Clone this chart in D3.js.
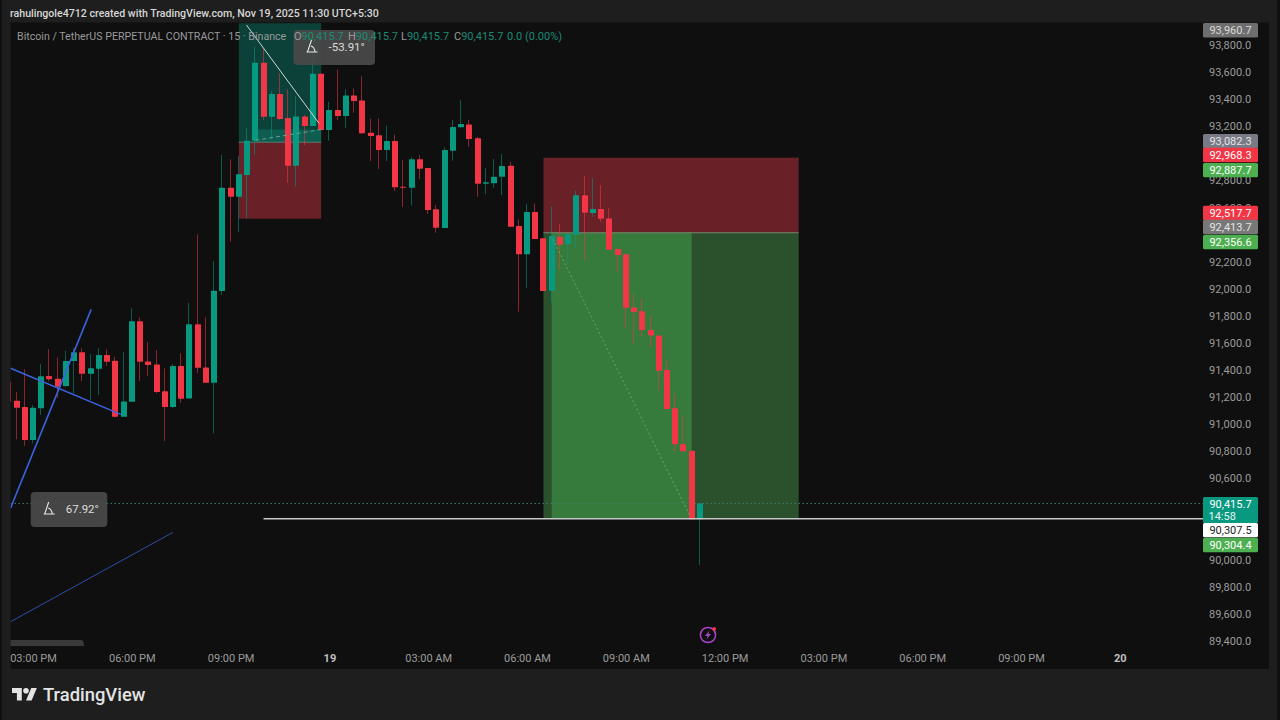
<!DOCTYPE html>
<html>
<head>
<meta charset="utf-8">
<title>BTCUSDT.P 15m</title>
<script src="https://d3js.org/d3.v7.min.js"></script>
<style>
  html, body { margin: 0; padding: 0; background: #1e1e1e; overflow: hidden; }
  svg { display: block; }
  text { font-family: Roboto, Inter, sans-serif; }
</style>
</head>
<body>
<svg id="chart" width="1280" height="720"></svg>
<script>
// 15-minute BTCUSDT perpetual candles, Nov 18 14:15 to Nov 19 11:15
const firstBar = Date.UTC(2025, 10, 18, 14, 15);
const opens = [91314,91174,91127,90884,91118,91356,91336,91282,91467,91531,91373,91410,91511,91469,91055,91166,91760,91464,91442,91243,91127,91430,91191,91738,91420,91306,91984,92746,92680,92840,93093,93669,93270,93438,93261,92909,93273,93202,93588,93172,93320,93276,93428,93391,93152,93133,93025,93091,92754,92746,92956,92892,92587,92449,93019,93192,93214,93111,92776,92779,92827,92909,92463,92255,92567,92373,91986,92384,92331,92399,92690,92559,92589,92520,92294,92255,91863,91834,91696,91656,91400,91118,90852,90805,90298];
const highs = [91314,91240,91406,91142,91445,91555,91494,91543,91563,91561,91518,91561,91553,91498,91535,91856,91789,91609,91548,91413,91445,91524,91897,92402,91789,92205,92988,92956,92980,93185,93787,93775,93462,93591,93473,93423,93283,93726,93591,93381,93620,93473,93480,93571,93256,93259,93204,93139,92951,92971,92988,92892,92619,93045,93246,93394,93246,93123,92889,92958,92995,92938,92513,92626,92630,92375,92606,92478,92402,92724,92833,92816,92766,92594,92294,92255,91967,91930,91806,91656,91474,91230,91061,90805,90415.7];
const lows = [91166,90889,90841,90859,91068,91317,91196,91277,91228,91319,91179,91216,91430,91051,91055,91166,91319,91356,91228,90876,91118,91159,91191,91378,91306,90933,91954,92348,92421,92520,92988,93246,93103,93246,92783,92754,93061,93202,93172,93093,93246,93185,93300,93143,92943,92884,92943,92722,92606,92616,92810,92552,92414,92449,92946,93192,93049,92680,92698,92746,92692,92456,91831,92008,92367,91984,91895,92144,92175,92301,92207,92532,92493,92289,92126,91708,91597,91651,91572,91253,91112,90797,90800,90298,89961];
const closes = [91166,91122,90884,91122,91354,91332,91277,91467,91531,91373,91413,91511,91462,91055,91169,91760,91462,91437,91238,91127,91430,91188,91738,91417,91306,91986,92746,92680,92845,93093,93669,93270,93438,93253,92909,93273,93202,93588,93172,93320,93276,93428,93386,93148,93128,93025,93091,92749,92746,92956,92887,92582,92451,93025,93194,93217,93106,92776,92786,92827,92906,92458,92255,92567,92367,91984,92390,92325,92402,92690,92562,92589,92517,92289,92249,91860,91829,91696,91656,91395,91112,90852,90800,90298,90415.7];

// Axis tick labels; levels that sit behind a price tag get no label of their own
const priceTicks = [89400,89600,89800,90000,90600,90800,91000,91200,91400,91600,91800,92000,92200,92600,92800,93200,93400,93600,93800];
const timeTicks = [
  [Date.UTC(2025,10,18,15), "03:00 PM"], [Date.UTC(2025,10,18,18), "06:00 PM"],
  [Date.UTC(2025,10,18,21), "09:00 PM"], [Date.UTC(2025,10,19,0), "19"],
  [Date.UTC(2025,10,19,3), "03:00 AM"], [Date.UTC(2025,10,19,6), "06:00 AM"],
  [Date.UTC(2025,10,19,9), "09:00 AM"], [Date.UTC(2025,10,19,12), "12:00 PM"],
  [Date.UTC(2025,10,19,15), "03:00 PM"], [Date.UTC(2025,10,19,18), "06:00 PM"],
  [Date.UTC(2025,10,19,21), "09:00 PM"], [Date.UTC(2025,10,20,0), "20"]
];

// Price-axis tags: value, optional second line, fill, text colour, stacking shift
const priceTags = [
  [93960.7, null, "#6e6e6e", "#d8d8d8", 7],
  [93082.3, null, "#787b86", "#e4e4e4", -1],
  [92968.3, null, "#f23645", "#ffffff", -2.6],
  [92887.7, null, "#4caf50", "#ffffff", 1.5],
  [92517.7, null, "#f23645", "#ffffff", -5.7],
  [92413.7, null, "#787878", "#e4e4e4", -5.8],
  [92356.6, null, "#4caf50", "#ffffff", 1.5],
  [90304.4, null, "#4caf50", "#ffffff", 26.5],
  [90307.5, null, "#ffffff", "#222222", 12],
  [90415.7, "14:58", "#089981", "#ffffff", 6.6]
];

// Position tools and drawings, as time and price
const t = (d, h, m) => Date.UTC(2025, 10, d, h, m);
const longTool = { from: t(18,21,15), to: t(18,23,45), target: 93960.7, entry: 93082.3, stop: 92517.7 };
const longBand = { from: t(18,21,45), to: t(18,23,45), top: 93176, entry: 93082.3 };
const shortTool = { from: t(19,6,30), to: t(19,14,15), stop: 92968.3, entry: 92413.7, target: 90304.4, activeFrom: t(19,6,45), activeTo: t(19,11,0) };
const blueThick = [
  [[t(18,14,19), 91413], [t(18,17,40), 91073]],
  [[t(18,14,19), 90381], [t(18,16,46), 91848]]
];
const blueThin = [[t(18,14,19), 89542], [t(18,19,15), 90202]];
const whiteDiagonal = [[t(18,21,29), 93947], [t(18,23,41), 93222]];
const longDashes = [[t(18,21,45), 93096], [t(18,23,45), 93176]];
const shortDashes = [[t(19,6,47), 92367], [t(19,10,57), 90322]];
const lastPrice = 90415.7;
const levelPrice = 90307.5;
const levelStart = t(18,22,0);

const svg = d3.select("#chart");

const x = d3.scaleUtc().domain([Date.UTC(2025,10,18,15), Date.UTC(2025,10,20,0)]).range([33, 1119.8]);
const y = d3.scaleLinear().domain([89400, 93800]).range([641, 45]);
const bars = opens.map((o, i) => ({
  time: d3.utcMinute.offset(new Date(firstBar), i * 15),
  o, h: highs[i], l: lows[i], c: closes[i]
}));

const UP = "#089981", DOWN = "#f23645";
const plot = { l: 10.5, t: 22.5, r: 1203, b: 669 };

// Outer frame and chart background
svg.append("rect").attr("width", 1280).attr("height", 720).attr("fill", "#1e1e1e");
svg.append("rect").attr("width", 2).attr("height", 720).attr("fill", "#101010");
svg.append("rect").attr("x", 1277).attr("width", 3).attr("height", 720).attr("fill", "#101010");
svg.append("rect").attr("x", plot.l).attr("y", plot.t).attr("width", 1269 - plot.l).attr("height", plot.b - plot.t).attr("fill", "#0f0f0f");

svg.append("defs").append("clipPath").attr("id", "pane")
  .append("rect").attr("x", plot.l).attr("y", plot.t).attr("width", plot.r - plot.l).attr("height", 622);
const pane = svg.append("g").attr("clip-path", "url(#pane)");

const zone = (x0, x1, p0, p1, fill) => pane.append("rect")
  .attr("x", x(x0)).attr("width", x(x1) - x(x0))
  .attr("y", y(p0)).attr("height", y(p1) - y(p0)).attr("fill", fill);

// Long position on the left
zone(longTool.from, longTool.to, longTool.target, longTool.entry, "#0b4138");
zone(longBand.from, longBand.to, longBand.top, longBand.entry, "#0e5d50");
zone(longTool.from, longTool.to, longTool.entry, longTool.stop, "#6a2027");
pane.append("line").attr("x1", x(longTool.from)).attr("x2", x(longTool.to))
  .attr("y1", y(longTool.entry)).attr("y2", y(longTool.entry)).attr("stroke", "#5a7d74").attr("stroke-width", 1);

// Short position in the middle
zone(shortTool.from, shortTool.to, shortTool.stop, shortTool.entry, "#6a2027");
zone(shortTool.from, shortTool.to, shortTool.entry, shortTool.target, "#2a502c");
zone(shortTool.activeFrom, shortTool.activeTo, shortTool.entry, shortTool.target, "#367a3c");
pane.append("line").attr("x1", x(shortTool.from)).attr("x2", x(shortTool.to))
  .attr("y1", y(shortTool.entry)).attr("y2", y(shortTool.entry)).attr("stroke", "#7a8a70").attr("stroke-width", 1);

const line = d3.line().x(d => x(d[0])).y(d => y(d[1]));

// Last-price guide
pane.append("line").attr("x1", plot.l).attr("x2", plot.r).attr("y1", y(lastPrice)).attr("y2", y(lastPrice))
  .attr("stroke", "#3f7f70").attr("stroke-width", 1).attr("stroke-dasharray", "1.5 2.5");

// Candles
const candle = pane.append("g").selectAll("g").data(bars).join("g");
candle.append("line")
  .attr("x1", d => Math.round(x(d.time)) - 0.5).attr("x2", d => Math.round(x(d.time)) - 0.5)
  .attr("y1", d => y(d.h)).attr("y2", d => y(d.l))
  .attr("stroke", d => d.c >= d.o ? UP : DOWN).attr("stroke-opacity", 0.55).attr("stroke-width", 1);
candle.append("rect")
  .attr("x", d => Math.round(x(d.time)) - 3).attr("width", 6)
  .attr("y", d => y(Math.max(d.o, d.c)))
  .attr("height", d => Math.max(1, Math.abs(y(d.o) - y(d.c))))
  .attr("rx", 0.6)
  .attr("fill", d => d.c >= d.o ? UP : DOWN);

// Hand-drawn lines over the candles
blueThick.forEach(seg => pane.append("path").attr("d", line(seg)).attr("fill", "none").attr("stroke", "#3a62dc").attr("stroke-width", 1.6));
pane.append("path").attr("d", line(blueThin)).attr("fill", "none").attr("stroke", "#2f4fa8").attr("stroke-width", 1);
pane.append("path").attr("d", line(whiteDiagonal)).attr("fill", "none").attr("stroke", "#cfd8d6").attr("stroke-width", 1);
pane.append("path").attr("d", line(longDashes)).attr("fill", "none").attr("stroke", "#5fa393").attr("stroke-width", 1).attr("stroke-dasharray", "4 3");
pane.append("path").attr("d", line(shortDashes)).attr("fill", "none").attr("stroke", "#66a56c").attr("stroke-width", 1).attr("stroke-dasharray", "2 2.5");
pane.append("line").attr("x1", x(levelStart)).attr("x2", plot.r).attr("y1", y(levelPrice) + 0.6).attr("y2", y(levelPrice) + 0.6)
  .attr("stroke", "#c8c8c8").attr("stroke-width", 1.5);

// Angle read-outs
function angleBox(bx, by, w, label) {
  const g = svg.append("g").attr("transform", `translate(${bx},${by})`);
  g.append("rect").attr("width", w).attr("height", 35).attr("rx", 4).attr("fill", "#4a4a4a").attr("fill-opacity", 0.92);
  g.append("path").attr("d", "M13 22 H24 M14 22 L18 10 M17.5 16 Q21 17 21.5 22")
    .attr("fill", "none").attr("stroke", "#e8e8e8").attr("stroke-width", 1.1);
  g.append("text").attr("x", 35).attr("y", 21).attr("font-size", 11.5).attr("fill", "#dcdcdc").text(label);
}
angleBox(30.7, 492, 76.6, "67.92°");
angleBox(293.5, 30, 81.5, "-53.91°");

// Scroll handle at the bottom of the pane
svg.append("path").attr("d", "M10.5 646 V640 H81 Q84 640 84 646 Z").attr("fill", "#3a3a3a");

// Price axis
const yAxis = svg.append("g").attr("transform", "translate(1202,0)")
  .call(d3.axisRight(y).tickValues(priceTicks).tickSize(0).tickPadding(7).tickFormat(d3.format(",.1f")));
yAxis.select(".domain").remove();
yAxis.selectAll("text").attr("font-family", "Roboto, Inter, sans-serif").attr("font-size", 11).attr("fill", "#9b9b9b");

// Time axis
const xAxis = svg.append("g").attr("transform", "translate(0,654)")
  .call(d3.axisBottom(x).tickValues(timeTicks.map(d => new Date(d[0]))).tickSize(0).tickPadding(0)
    .tickFormat((d, i) => timeTicks[i][1]));
xAxis.select(".domain").remove();
xAxis.selectAll("text").attr("font-family", "Roboto, Inter, sans-serif").attr("font-size", 11)
  .attr("fill", (d, i) => timeTicks[i][1].length < 3 ? "#c0c0c0" : "#9b9b9b")
  .attr("font-weight", (d, i) => timeTicks[i][1].length < 3 ? 700 : 400);

// Price tags stacked on the axis
const tag = svg.append("g").selectAll("g").data(priceTags).join("g")
  .attr("transform", d => `translate(1203,${y(d[0]) + d[4]})`);
tag.append("rect").attr("y", d => d[1] ? -13 : -7.2).attr("width", 55).attr("height", d => d[1] ? 26 : 14.4).attr("rx", 1.5)
  .attr("fill", d => d[2]);
tag.append("text").attr("x", 27.5).attr("y", d => d[1] ? -2.2 : 4).attr("text-anchor", "middle").attr("font-size", 11)
  .attr("fill", d => d[3]).text(d => d3.format(",.1f")(d[0]));
tag.filter(d => d[1]).append("text").attr("x", 5.5).attr("y", 9.6).attr("font-size", 11).attr("fill", "#e6f5f2").text(d => d[1]);

// Snapshot credit
svg.append("text").attr("x", 10).attr("y", 17).attr("font-size", 10.6).attr("font-weight", 500).attr("fill", "#d6d6d6")
  .text("rahulingole4712 created with TradingView.com, Nov 19, 2025 11:30 UTC+5:30");

// Symbol legend
const legendY = 39.5;
svg.append("text").attr("x", 17).attr("y", legendY).attr("font-size", 10.65).attr("fill", "#9a9a9a")
  .text("Bitcoin / TetherUS PERPETUAL CONTRACT · 15 · Binance");
[["O", 294], ["H", 348], ["L", 401], ["C", 454]].forEach(([k, lx]) => {
  const row = svg.append("text").attr("x", lx).attr("y", legendY).attr("font-size", 11);
  row.append("tspan").attr("fill", "#9a9a9a").text(k);
  row.append("tspan").attr("fill", "#1b8a74").text(d3.format(",.1f")(lastPrice));
});
svg.append("text").attr("x", 507).attr("y", legendY).attr("font-size", 11).attr("fill", "#1b8a74").text("0.0 (0.00%)");

// Session break marker under the last candles
const marker = svg.append("g").attr("transform", "translate(708,635)");
marker.append("circle").attr("r", 7.6).attr("fill", "#0f0f0f").attr("stroke", "#a845c8").attr("stroke-width", 1.5);
marker.append("path").attr("d", "M1.5 -4.5 L-3 1 H-0.4 L-1.6 4.5 L3 -1 H0.4 Z").attr("fill", "#a845c8");
marker.append("circle").attr("cx", 6.2).attr("cy", -6).attr("r", 1.9).attr("fill", "#f23645");

// TradingView wordmark
const mark = svg.append("g").attr("transform", "translate(12,685.2) scale(0.7)");
mark.append("path").attr("d", "M14 22H7V11H0V4h14v18zM28 22h-8l7.5-18h8L28 22z").attr("fill", "#e4e4e4");
mark.append("circle").attr("cx", 20).attr("cy", 8).attr("r", 4).attr("fill", "#e4e4e4");
svg.append("text").attr("x", 43).attr("y", 700.5).attr("font-size", 18.4).attr("font-weight", 500).attr("fill", "#e4e4e4").text("TradingView");
</script>
</body>
</html>
